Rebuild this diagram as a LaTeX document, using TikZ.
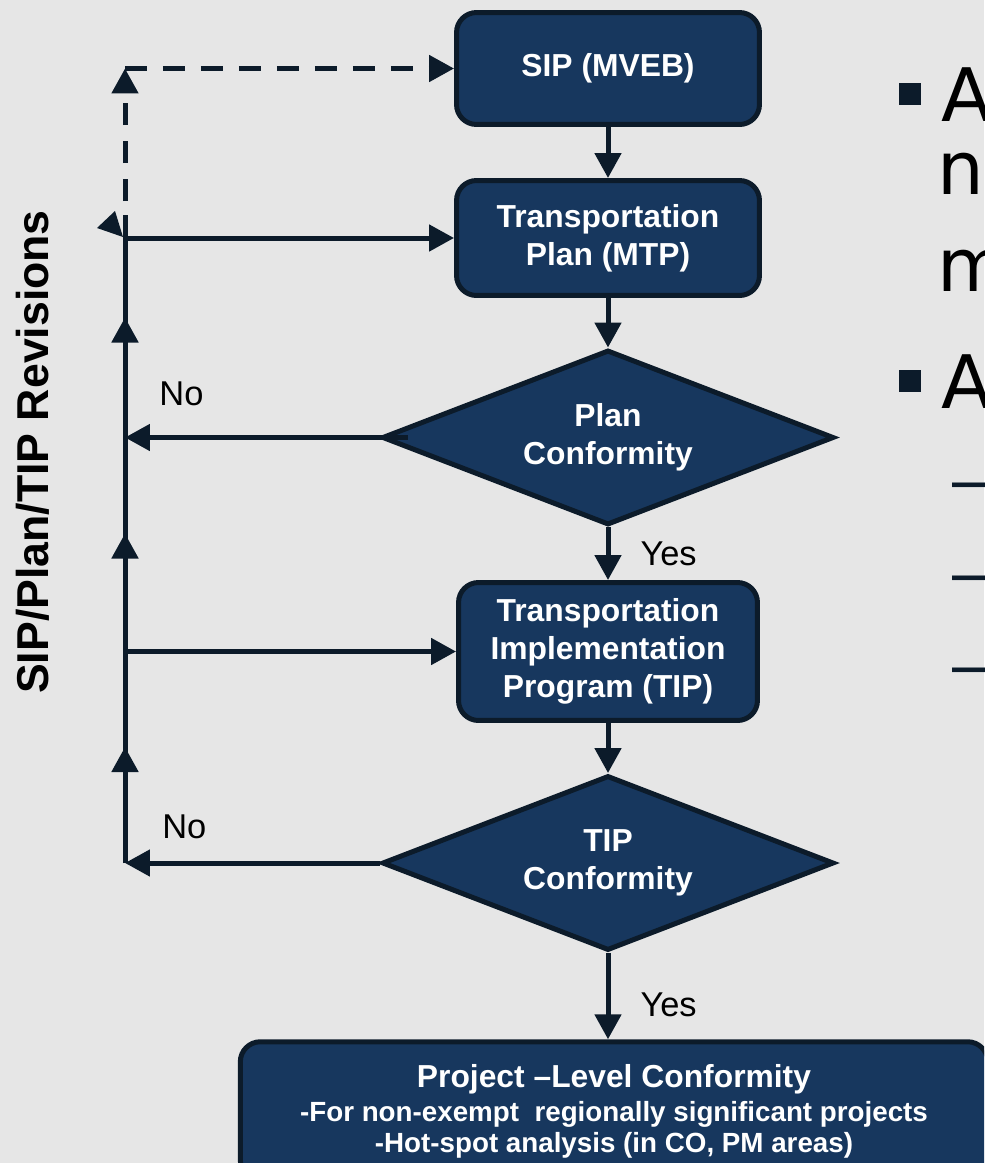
\documentclass[tikz,border=0pt]{standalone}
\usepackage{fontspec}
\setmainfont{Liberation Sans}
\newfontfamily\slidefont{DejaVu Sans}
\usepackage{tikz}
\usetikzlibrary{arrows.meta, calc, shapes.geometric}
\definecolor{slidebg}{HTML}{E6E6E6}
\definecolor{boxfill}{HTML}{17375E}
\definecolor{boxline}{HTML}{0C1B2A}
\tikzset{
  procbox/.style={draw=boxline, fill=boxfill, line width=0.1cm, rounded corners=0.4cm,
    text=white, align=center, inner sep=0pt, font=\bfseries\fontsize{18.1}{21.5}\selectfont},
  decbox/.style={diamond, draw=boxline, fill=boxfill, line width=0.1cm, shape aspect=2.58,
    minimum width=9.04cm, minimum height=3.5cm, text=white, align=center, inner sep=0pt,
    font=\bfseries\fontsize{18.1}{21.5}\selectfont},
  busline/.style={draw=boxline, line width=0.1cm},
  flow/.style={busline, -{Triangle[width=0.52cm, length=0.5cm]}},
  dashflow/.style={flow, dash pattern=on 0.44cm off 0.32cm},
  lbl/.style={inner sep=0pt, font=\fontsize{19.6}{23.5}\selectfont},
  slidetext/.style={inner sep=0pt, anchor=base west, font=\slidefont\fontsize{42}{50}\selectfont}
}

\begin{document}
\begin{tikzpicture}[x=0.02cm, y=-0.02cm]
	\useasboundingbox (0,0) rectangle (984,1163);
	\clip (0,0) rectangle (984,1163);
	\fill[slidebg] (0,0) rectangle (984,1163);

	% flow chart boxes
	\node[procbox, minimum width=6.06cm, minimum height=2.24cm] (sip) at (608,68.5) {SIP (MVEB)};
	\node[procbox, minimum width=6.06cm, minimum height=2.30cm] (tp) at (608,238) {Transportation\\Plan (MTP)};
	\node[decbox] (pc) at (608,437.5) {Plan\\Conformity};
	\node[procbox, minimum width=5.98cm, minimum height=2.76cm] (tip) at (608,651.5) {Transportation\\Implementation\\Program (TIP)};
	\node[decbox] (tc) at (608,863) {TIP\\Conformity};
	\node[procbox, minimum width=14.95cm, minimum height=2.77cm, font=\bfseries\fontsize{15.8}{17.6}\selectfont] (proj) at (614,1111)
		{{\fontsize{18.1}{21.5}\selectfont Project –Level Conformity}\\[1.7pt]
		-For non-exempt\ \ regionally significant projects\\
		-Hot-spot analysis (in CO, PM areas)};

	\draw[flow] (sip) -- (tp);
	\draw[flow] (tp) -- (pc);
	\draw[flow] (pc) -- (tip) node[lbl, midway, right=0.6cm] {Yes};
	\draw[flow] (tip) -- (tc);
	\draw[flow] (tc.south) -- (tc.south |- proj.north) node[lbl, pos=0.6, right=0.6cm] {Yes};

	% revisions loop on the left
	\coordinate (bus) at (125,0);
	\coordinate (jtp) at (bus |- tp.west);
	\draw[busline] (bus |- tc.west) -- ($(jtp)+(0,-23)$);
	\draw[flow] (bus |- tc.west) -- ++(0,-116);
	\draw[flow] (bus |- tip.west) -- ++(0,-118);
	\draw[flow] (bus |- pc.west) -- ++(0,-120);
	\draw[flow] (jtp) -- (tp);
	\draw[flow] (bus |- tip.west) -- (tip);
	\draw[flow] ($(pc.west)+(28,0)$) -- (bus |- pc.west) node[lbl, pos=0.8, above=0.58cm] {No};
	\draw[flow] (tc.west) -- (bus |- tc.west) node[lbl, pos=0.767, above=0.44cm] {No};
	\draw[dashflow] ($(jtp)+(0,-37)$) -- (bus |- sip.west);
	\draw[dashflow] (bus |- sip.west) -- (sip);
	\fill[boxline] ($(jtp)+(-28,-10)$) -- ($(jtp)+(-10,-27)$) -- ($(jtp)+(-2,-1)$) -- cycle;

	\node[rotate=90, anchor=base, inner sep=0pt, font=\bfseries\fontsize{25.4}{30}\selectfont] (rev) at (49,452) {SIP/Plan/TIP Revisions};

	% slide text cut off on the right
	\fill[boxline] (899,83) rectangle (921,105);
	\fill[boxline] (899,370) rectangle (921,392);
	\node[slidetext] (a1) at (941,121) {A};
	\node[slidetext] (n1) at (937,194) {n};
	\node[slidetext] (m1) at (937,291) {m};
	\node[slidetext] (a2) at (941,408) {A};
	\foreach \y in {502,595,687}
		\node[slidetext, text=boxline, font=\fontsize{38.6}{46}\selectfont] at (952,\y) {–};
\end{tikzpicture}
\end{document}
